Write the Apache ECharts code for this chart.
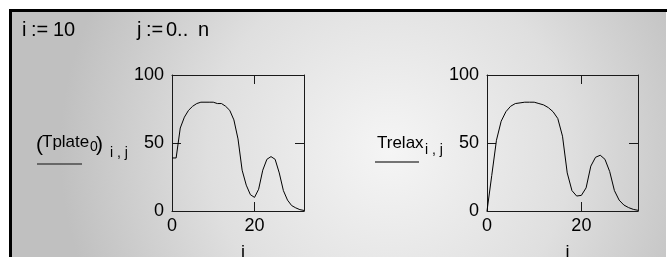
<!DOCTYPE html>
<html>
<head>
<meta charset="utf-8">
<script src="https://cdn.jsdelivr.net/npm/echarts@6/dist/echarts.min.js"></script>
<style>
  html, body { margin: 0; padding: 0; background: #fff; }
  #chart { width: 667px; height: 257px; }
</style>
</head>
<body>
<div id="chart"></div>
<script>
// j := 0 .. n  (n = 32)
const jValues = [0, 1, 2, 3, 4, 5, 6, 7, 8, 9, 10, 11, 12, 13, 14, 15, 16,
  17, 18, 19, 20, 21, 22, 23, 24, 25, 26, 27, 28, 29, 30, 31, 32];
// (Tplate0)i,j for i = 10
const tplate = [39, 39, 61, 69, 74, 77, 79, 80, 80, 80, 80, 79, 79, 77, 74, 67, 53,
  30, 19, 12, 10, 16, 30, 38, 40, 38, 28, 15, 8, 4, 2.3, 1, 0.4];
// Trelax i,j for i = 10
const trelax = [0, 26, 52, 66, 73, 77, 79, 79.5, 80, 80, 80, 79, 78, 76, 73, 68, 55,
  28, 15, 11, 11.5, 17, 33, 39.5, 41, 38, 29, 15, 8, 4.4, 2.5, 1.2, 0.5];
const xTickLabels = [0, 20];
const xTicks = [0, 20, 32];
const yTickLabels = [0, 50, 100];

const FONT = '"Liberation Sans", Arial, sans-serif';
const INK = '#1a1a1a';

const chart = echarts.init(document.getElementById('chart'), null, { renderer: 'canvas' });

function xAxes(gridIndex) {
  const common = {
    type: 'value',
    gridIndex,
    min: 0,
    max: 32,
    axisLine: { show: true, onZero: false, lineStyle: { color: INK, width: 1 } },
    axisTick: { show: true, inside: true, length: 9, customValues: xTicks, lineStyle: { color: INK } },
    splitLine: { show: false },
  };
  return [
    {
      ...common,
      position: 'bottom',
      name: 'j',
      nameLocation: 'middle',
      nameGap: 33,
      nameTextStyle: { fontFamily: FONT, fontSize: 18, color: '#000', padding: [0, 0, 0, 10] },
      axisLabel: { fontFamily: FONT, fontSize: 18, color: '#000', margin: 6, customValues: xTickLabels },
    },
    { ...common, position: 'top', axisLabel: { show: false } },
  ];
}

function yAxes(gridIndex) {
  const common = {
    type: 'value',
    gridIndex,
    min: 0,
    max: 100,
    interval: 50,
    axisLine: { show: true, onZero: false, lineStyle: { color: INK, width: 1 } },
    axisTick: { show: true, inside: true, length: 9, lineStyle: { color: INK } },
    splitLine: { show: false },
  };
  return [
    {
      ...common,
      position: 'left',
      axisLabel: {
        fontFamily: FONT, fontSize: 18, color: '#000', margin: 8,
        padding: [6, 0, 0, 0], customValues: yTickLabels,
      },
    },
    { ...common, position: 'right', axisLabel: { show: false } },
  ];
}

function text(x, y, str, size) {
  return {
    type: 'text',
    x, y,
    z: 10,
    style: { text: str, font: size + 'px ' + FONT, fill: '#000', verticalAlign: 'middle' },
  };
}

function hline(x1, x2, y, color, width) {
  return {
    type: 'line',
    z: 10,
    shape: { x1, y1: y, x2, y2: y },
    style: { stroke: color, lineWidth: width },
  };
}

chart.setOption({
  animation: false,
  backgroundColor: '#ffffff',
  grid: [
    { left: 172, top: 75, width: 132, height: 136, containLabel: false, outerBoundsMode: 'none' },
    { left: 487, top: 75, width: 151, height: 136, containLabel: false, outerBoundsMode: 'none' },
  ],
  xAxis: [...xAxes(0), ...xAxes(1)],
  yAxis: [...yAxes(0), ...yAxes(1)],
  graphic: [
    {
      type: 'rect',
      z: -10,
      silent: true,
      shape: { x: 10, y: 10, width: 656, height: 247 },
      style: {
        fill: new echarts.graphic.RadialGradient(390, 150, 330, [
          { offset: 0, color: '#f5f5f5' },
          { offset: 0.55, color: '#dfdfdf' },
          { offset: 1, color: '#c0c0c0' },
        ], true),
      },
    },
    // frame: top and left edges only
    hline(9, 667, 10.5, '#000', 3),
    { type: 'line', z: 10, shape: { x1: 10.5, y1: 9, x2: 10.5, y2: 257 }, style: { stroke: '#000', lineWidth: 3 } },
    // i := 10      j := 0.. n
    text(22, 30, 'i', 20),
    text(31, 30, ':=', 20),
    text(53, 30, '10', 20),
    text(137, 30, 'j', 20),
    text(146, 30, ':=', 20),
    text(166, 30, '0..', 20),
    text(198, 30, 'n', 20),
    // (Tplate0)i,j
    text(36, 145, '(', 21),
    text(42, 142, 'Tplate', 17),
    text(90, 147, '0', 14),
    text(96, 145, ')', 21),
    text(110, 153, 'i , j', 14),
    hline(37, 82, 164, '#4a4a4a', 1.5),
    // Trelax i,j
    text(377, 143, 'Trelax', 17),
    text(425, 150, 'i , j', 14),
    hline(375, 419, 162, '#4a4a4a', 1.5),
  ],
  series: [
    {
      type: 'line',
      xAxisIndex: 0,
      yAxisIndex: 0,
      showSymbol: false,
      data: jValues.map((j, k) => [j, tplate[k]]),
      lineStyle: { color: '#000', width: 1 },
    },
    {
      type: 'line',
      xAxisIndex: 2,
      yAxisIndex: 2,
      showSymbol: false,
      data: jValues.map((j, k) => [j, trelax[k]]),
      lineStyle: { color: '#000', width: 1 },
    },
  ],
});
</script>
</body>
</html>
